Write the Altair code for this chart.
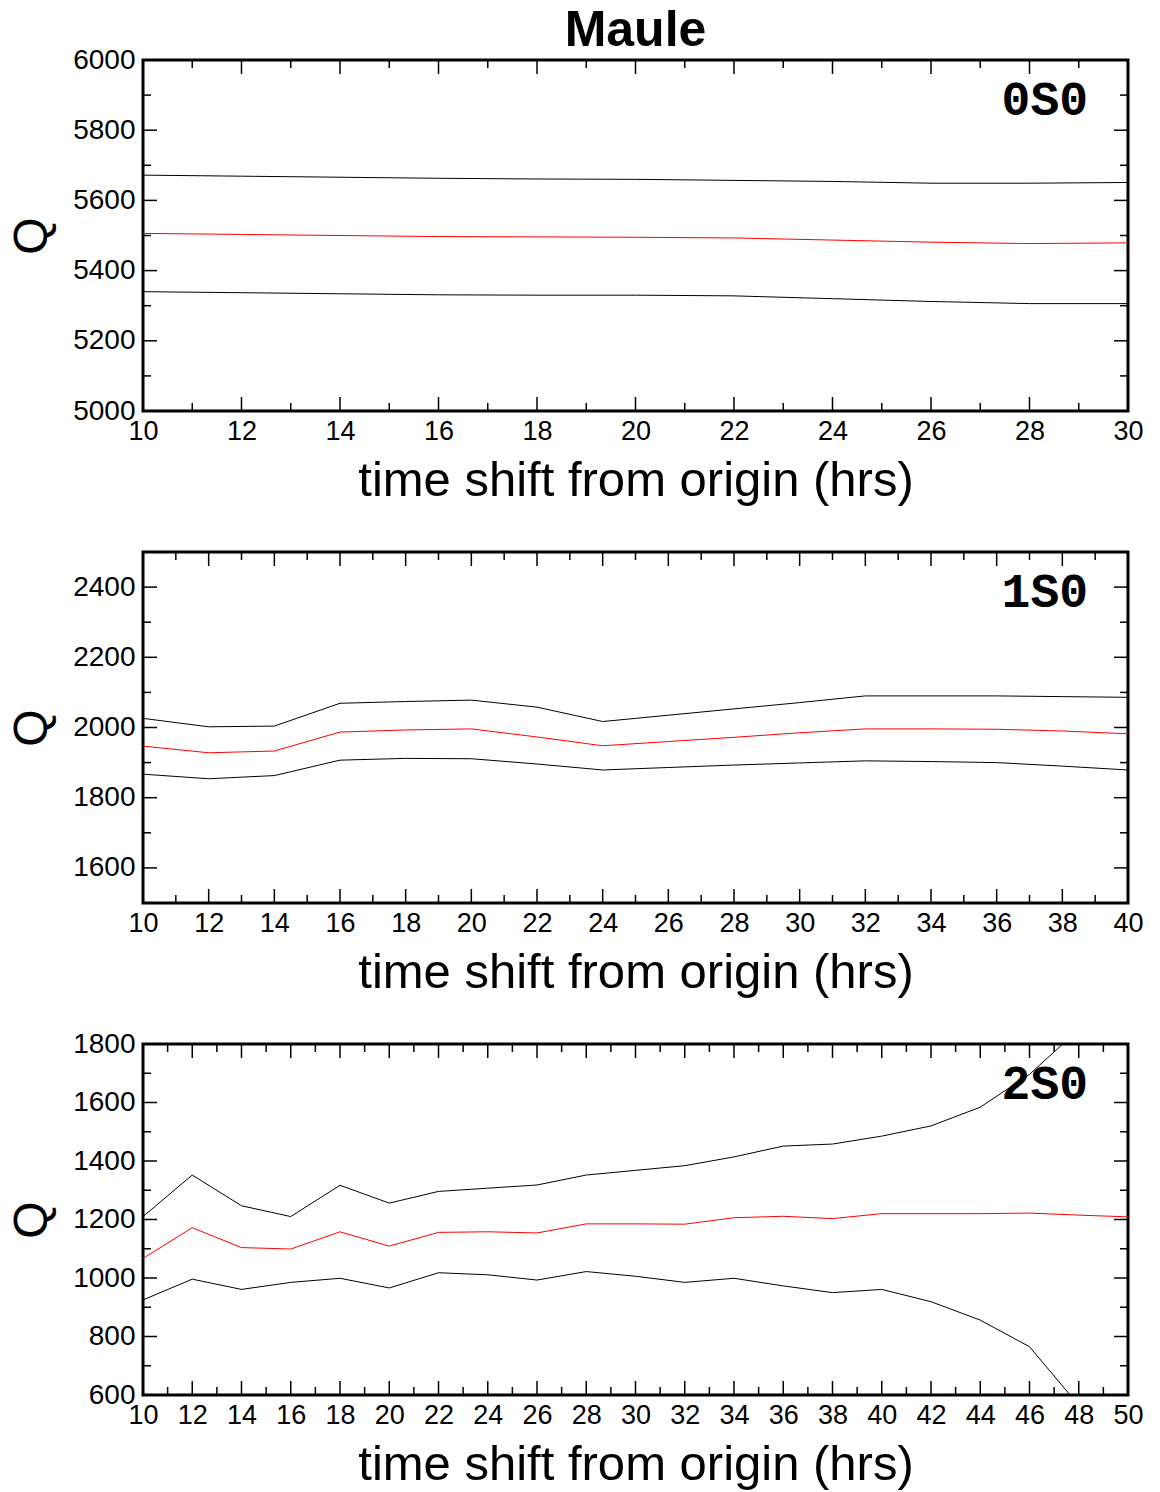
import altair as alt
import pandas as pd

# ---------------- data ----------------
title_text = "Maule"
x_title = "time shift from origin (hrs)"
y_title = "Q"
panel_labels = ["0S0", "1S0", "2S0"]

# panel 1 (0S0)
hrs1 = [10, 12, 14, 16, 18, 20, 22, 24, 26, 28, 30]
up1 = [5672, 5669, 5666, 5663, 5661, 5660, 5657, 5654, 5649, 5649, 5651]
mid1 = [5506, 5503, 5500, 5497, 5496, 5495, 5493, 5487, 5481, 5477, 5479]
lo1 = [5340, 5337, 5334, 5331, 5330, 5330, 5328, 5320, 5312, 5306, 5306]

# panel 2 (1S0)
hrs2 = [10, 12, 14, 16, 18, 20, 22, 24, 26, 28, 30, 32, 34, 36, 38, 40]
up2 = [2026, 2002, 2004, 2069, 2074, 2078, 2058, 2017, 2035, 2053, 2071, 2090, 2090, 2090, 2088, 2086]
mid2 = [1947, 1928, 1933, 1987, 1993, 1996, 1973, 1948, 1960, 1972, 1985, 1996, 1996, 1995, 1990, 1982]
lo2 = [1867, 1854, 1863, 1907, 1912, 1911, 1896, 1879, 1886, 1893, 1899, 1905, 1903, 1900, 1890, 1879]

# panel 3 (2S0)
hrs3 = [10, 12, 14, 16, 18, 20, 22, 24, 26, 28, 30, 32, 34, 36, 38, 40, 42, 44, 46, 48, 50]
up3 = [1210, 1352, 1247, 1210, 1317, 1256, 1296, 1307, 1318, 1352, 1368, 1384, 1414, 1451, 1458, 1485, 1520, 1584, 1696, 1850, 2050]
mid3 = [1067, 1172, 1104, 1099, 1158, 1109, 1156, 1158, 1154, 1185, 1185, 1184, 1206, 1211, 1203, 1220, 1220, 1220, 1222, 1215, 1209]
lo3 = [925, 996, 961, 985, 999, 966, 1018, 1011, 993, 1022, 1006, 985, 999, 973, 950, 961, 919, 856, 765, 565, 400]

x_domains = [[10, 30], [10, 40], [10, 50]]
y_domains = [[5000, 6000], [1500, 2500], [600, 1800]]
x_major_step = [2, 2, 2]
x_minor_step = [1, 1, 1]
y_major = [[5000, 5200, 5400, 5600, 5800, 6000],
           [1600, 1800, 2000, 2200, 2400],
           [600, 800, 1000, 1200, 1400, 1600, 1800]]
y_minor = [[5100, 5300, 5500, 5700, 5900],
           [1500, 1700, 1900, 2100, 2300, 2500],
           [700, 900, 1100, 1300, 1500, 1700]]

panels = [(hrs1, up1, mid1, lo1), (hrs2, up2, mid2, lo2), (hrs3, up3, mid3, lo3)]

W, H = 985, 351
FONT = "Liberation Sans"
MAJ, MIN = 14, 8


def make_panel(i):
    hrs, up, mid, lo = panels[i]
    xd, yd = x_domains[i], y_domains[i]
    rows = []
    for s, vals in (("upper", up), ("mid", mid), ("lower", lo)):
        for h, v in zip(hrs, vals):
            rows.append({"hrs": h, "Q": v, "series": s})
    df = pd.DataFrame(rows)

    xs = alt.Scale(domain=xd, nice=False, zero=False)
    ys = alt.Scale(domain=yd, nice=False, zero=False)
    xmaj = list(range(xd[0], xd[1] + 1, x_major_step[i]))
    xmin = [v for v in range(xd[0], xd[1] + 1, x_minor_step[i]) if v not in xmaj]

    xax = alt.Axis(values=xmaj, title=x_title, ticks=False, domain=False,
                   grid=False, labelFlush=False, labelOverlap=False, format="d",
                   labelFont=FONT, labelFontSize=27, labelColor="black",
                   labelPadding=7, titleFont=FONT, titleFontSize=49,
                   titleFontWeight="normal", titleColor="black",
                   titlePadding=12)
    yax = alt.Axis(values=y_major[i], title=y_title, ticks=False, domain=False,
                   grid=False, labelFlush=False, labelOverlap=False, format="d",
                   labelFont=FONT, labelFontSize=28, labelColor="black",
                   labelPadding=8, titleFont=FONT, titleFontSize=48,
                   titleFontWeight="normal", titleColor="black",
                   titlePadding=16)

    lines = alt.Chart(df).mark_line(clip=True, strokeWidth=1).encode(
        x=alt.X("hrs:Q", scale=xs, axis=xax),
        y=alt.Y("Q:Q", scale=ys, axis=yax),
        color=alt.Color("series:N",
                        scale=alt.Scale(domain=["upper", "mid", "lower"],
                                        range=["black", "red", "black"]),
                        legend=None),
        detail="series:N",
    )

    layers = [lines]

    def xticks(vals, length, top):
        d = pd.DataFrame({"hrs": vals})
        if top:
            yy, yy2 = alt.value(0), alt.value(length)
        else:
            yy, yy2 = alt.value(H - length), alt.value(H)
        return alt.Chart(d).mark_rule(color="black", strokeWidth=1.5).encode(
            x=alt.X("hrs:Q", scale=xs, axis=xax), y=yy, y2=yy2)

    def yticks(vals, length, left):
        d = pd.DataFrame({"Q": vals})
        if left:
            xx, xx2 = alt.value(0), alt.value(length)
        else:
            xx, xx2 = alt.value(W - length), alt.value(W)
        return alt.Chart(d).mark_rule(color="black", strokeWidth=1.5).encode(
            y=alt.Y("Q:Q", scale=ys, axis=yax), x=xx, x2=xx2)

    for top in (True, False):
        layers.append(xticks(xmaj, MAJ, top))
        layers.append(xticks(xmin, MIN, top))
    for left in (True, False):
        layers.append(yticks(y_major[i], MAJ, left))
        layers.append(yticks(y_minor[i], MIN, left))

    lab = alt.Chart(pd.DataFrame({"t": [panel_labels[i]]})).mark_text(
        font="Liberation Mono", fontWeight="bold", fontSize=48, align="right",
        baseline="middle", color="black"
    ).encode(text="t:N", x=alt.value(W - 40), y=alt.value(41))
    layers.append(lab)

    ch = alt.layer(*layers).properties(width=W, height=H)
    if i == 0:
        ch = ch.properties(title=alt.TitleParams(title_text, font=FONT, fontSize=50,
                                                 fontWeight="bold", color="black",
                                                 anchor="middle", offset=-10))
    return ch


p1, p2, p3 = [make_panel(i) for i in range(3)]
chart = alt.vconcat(alt.vconcat(p1, p2, spacing=42), p3, spacing=29).properties(
    padding={"left": 7, "top": 4, "right": 10, "bottom": 0},
    background="white",
).configure_view(stroke="black", strokeWidth=3)

chart.save("out.html", embed_options={"renderer": "svg", "actions": False})
